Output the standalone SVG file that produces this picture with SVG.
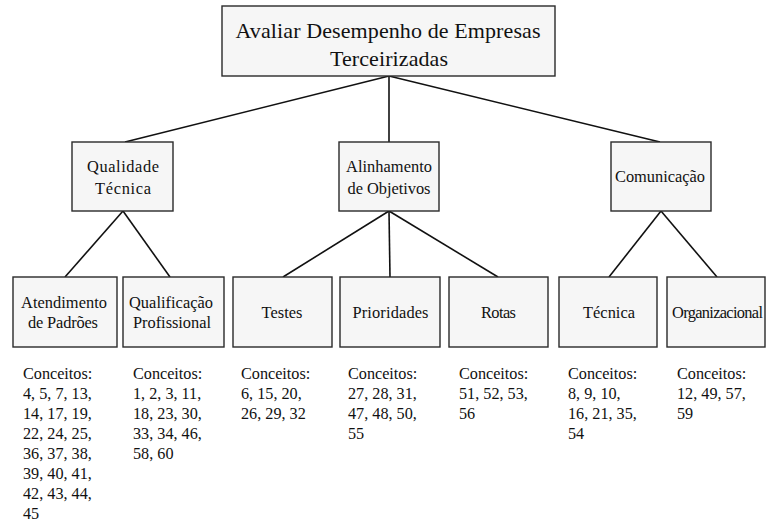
<svg xmlns="http://www.w3.org/2000/svg" width="766" height="524" viewBox="0 0 766 524">
  <style>
    text { font-family: 'Liberation Serif', 'Times New Roman', serif; fill: #111; }
    .box { fill: #f6f6f6; stroke: #2a2a2a; stroke-width: 1.4; }
    .lbl { font-size: 16.4px; text-anchor: middle; }
    .title { font-size: 22px; text-anchor: middle; }
    .note { font-size: 16.2px; }
    .edge { stroke: #111; stroke-width: 1.6; fill: none; }
  </style>
  <rect width="766" height="524" fill="#ffffff"/>

  <!-- connectors -->
  <g id="connectors" class="edge">
    <line x1="389" y1="76" x2="125" y2="142"/>
    <line x1="389" y1="76" x2="389" y2="142"/>
    <line x1="389" y1="76" x2="660" y2="142"/>
    <line x1="123" y1="211" x2="65" y2="277"/>
    <line x1="123" y1="211" x2="170" y2="277"/>
    <line x1="389" y1="211" x2="283" y2="277"/>
    <line x1="389" y1="211" x2="390" y2="277"/>
    <line x1="389" y1="211" x2="498" y2="277"/>
    <line x1="661" y1="211" x2="609" y2="277"/>
    <line x1="661" y1="211" x2="717" y2="277"/>
  </g>

  <!-- root -->
  <g id="root">
    <rect class="box" x="222" y="6" width="333" height="70"/>
    <text class="title" x="388" y="38" textLength="305" lengthAdjust="spacing">Avaliar Desempenho de Empresas</text>
    <text class="title" x="389" y="65.5" textLength="118" lengthAdjust="spacing">Terceirizadas</text>
  </g>

  <!-- second level -->
  <g id="qualidade-tecnica">
    <rect class="box" x="72" y="142" width="101" height="69"/>
    <text class="lbl" x="123" y="172" textLength="72" lengthAdjust="spacing">Qualidade</text>
    <text class="lbl" x="123" y="194" textLength="56" lengthAdjust="spacing">Técnica</text>
  </g>
  <g id="alinhamento-objetivos">
    <rect class="box" x="339" y="142" width="100" height="69"/>
    <text class="lbl" x="389" y="172" textLength="86" lengthAdjust="spacing">Alinhamento</text>
    <text class="lbl" x="389" y="193.5" textLength="83" lengthAdjust="spacing">de Objetivos</text>
  </g>
  <g id="comunicacao">
    <rect class="box" x="611" y="142" width="100" height="69"/>
    <text class="lbl" x="660" y="182" textLength="90" lengthAdjust="spacing">Comunicação</text>
  </g>

  <!-- third level -->
  <g id="atendimento-padroes">
    <rect class="box" x="13" y="277" width="104" height="70"/>
    <text class="lbl" x="64" y="307.5" textLength="86" lengthAdjust="spacing">Atendimento</text>
    <text class="lbl" x="63" y="327.5" textLength="70" lengthAdjust="spacing">de Padrões</text>
  </g>
  <g id="qualificacao-profissional">
    <rect class="box" x="123" y="277" width="101" height="70"/>
    <text class="lbl" x="171" y="307.5" textLength="84" lengthAdjust="spacing">Qualificação</text>
    <text class="lbl" x="172" y="327.5" textLength="78" lengthAdjust="spacing">Profissional</text>
  </g>
  <g id="testes">
    <rect class="box" x="233" y="277" width="99" height="70"/>
    <text class="lbl" x="282" y="318" textLength="41" lengthAdjust="spacing">Testes</text>
  </g>
  <g id="prioridades">
    <rect class="box" x="340" y="277" width="100" height="70"/>
    <text class="lbl" x="390.5" y="318" textLength="76" lengthAdjust="spacing">Prioridades</text>
  </g>
  <g id="rotas">
    <rect class="box" x="449" y="277" width="99" height="70"/>
    <text class="lbl" x="498.5" y="318" textLength="35" lengthAdjust="spacing">Rotas</text>
  </g>
  <g id="tecnica">
    <rect class="box" x="559" y="277" width="98" height="70"/>
    <text class="lbl" x="609" y="318" textLength="52" lengthAdjust="spacing">Técnica</text>
  </g>
  <g id="organizacional">
    <rect class="box" x="667" y="277" width="98" height="70"/>
    <text class="lbl" x="717.5" y="318" textLength="91" lengthAdjust="spacing">Organizacional</text>
  </g>

  <!-- concept lists under each leaf -->
  <g id="conceitos-atendimento" class="note">
    <text x="23" y="379">Conceitos:</text>
    <text x="23" y="399">4, 5, 7, 13,</text>
    <text x="23" y="419">14, 17, 19,</text>
    <text x="23" y="439">22, 24, 25,</text>
    <text x="23" y="459">36, 37, 38,</text>
    <text x="23" y="479">39, 40, 41,</text>
    <text x="23" y="499">42, 43, 44,</text>
    <text x="23" y="519">45</text>
  </g>
  <g id="conceitos-qualificacao" class="note">
    <text x="133" y="379">Conceitos:</text>
    <text x="133" y="399">1, 2, 3, 11,</text>
    <text x="133" y="419">18, 23, 30,</text>
    <text x="133" y="439">33, 34, 46,</text>
    <text x="133" y="459">58, 60</text>
  </g>
  <g id="conceitos-testes" class="note">
    <text x="241" y="379">Conceitos:</text>
    <text x="241" y="399">6, 15, 20,</text>
    <text x="241" y="419">26, 29, 32</text>
  </g>
  <g id="conceitos-prioridades" class="note">
    <text x="348" y="379">Conceitos:</text>
    <text x="348" y="399">27, 28, 31,</text>
    <text x="348" y="419">47, 48, 50,</text>
    <text x="348" y="439">55</text>
  </g>
  <g id="conceitos-rotas" class="note">
    <text x="459" y="379">Conceitos:</text>
    <text x="459" y="399">51, 52, 53,</text>
    <text x="459" y="419">56</text>
  </g>
  <g id="conceitos-tecnica" class="note">
    <text x="568" y="379">Conceitos:</text>
    <text x="568" y="399">8, 9, 10,</text>
    <text x="568" y="419">16, 21, 35,</text>
    <text x="568" y="439">54</text>
  </g>
  <g id="conceitos-organizacional" class="note">
    <text x="677" y="379">Conceitos:</text>
    <text x="677" y="399">12, 49, 57,</text>
    <text x="677" y="419">59</text>
  </g>
</svg>
